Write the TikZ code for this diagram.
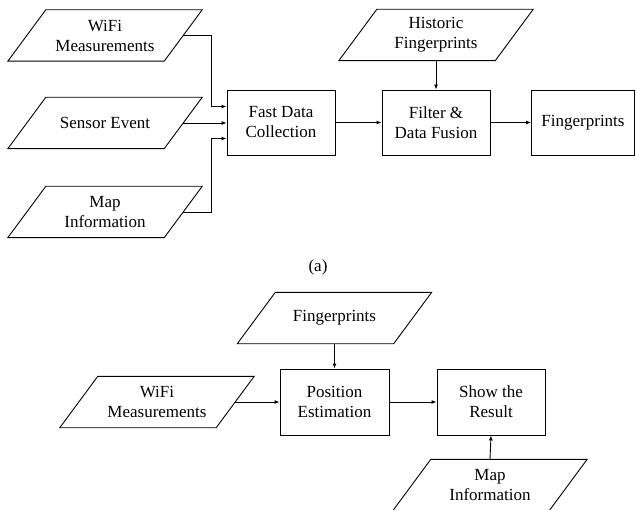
\documentclass[tikz,border=0pt]{standalone}
\usepackage{fontspec}
\setmainfont{Liberation Serif}
\usetikzlibrary{arrows.meta}
\begin{document}
\begin{tikzpicture}[x=1pt,y=-1pt,
  every node/.style={font=\fontsize{17}{20}\selectfont, align=center, inner sep=0pt},
  para/.style={rectangle, minimum width=156pt, minimum height=51pt},
  proc/.style={draw, line width=0.9pt, rectangle, minimum width=108pt, minimum height=65pt},
  conn/.style={line width=0.9pt, -{Latex[length=5pt,width=4pt]}}]
\useasboundingbox (0,0) rectangle (636,510);
% (a)
\node[para] (wifi1) at (105,35.5) {WiFi\\Measurements};
\node[para] (sens) at (105,123) {Sensor Event};
\node[para] (map1) at (105,212) {Map\\Information};
\node[para] (hist) at (436,35) {Historic\\Fingerprints};
\node[proc] (fast) at (281,122.5) {Fast Data\\Collection};
\node[proc] (filt) at (436,122.5) {Filter \&\\Data Fusion};
\node[proc, minimum width=103pt] (fp1) at (583,122.5) {Fingerprints};
\node (cap) at (318,267) {(a)};
\coordinate (j1) at (211,35.5);
\coordinate (j2) at (211,212);
% (b)
\node[para] (fp2) at (334.5,318) {Fingerprints};
\node[para] (wifi2) at (157,402) {WiFi\\Measurements};
\node[proc, minimum width=109pt, minimum height=66pt] (pos) at (334.5,402) {Position\\Estimation};
\node[proc, minimum height=66pt] (show) at (491,402) {Show the\\Result};
\node[para] (map2) at (490,485) {Map\\Information};
% parallelogram outlines
\foreach \n in {wifi1,sens,map1,hist,fp2,wifi2,map2}{
  \draw[line width=0.9pt] ([xshift=-19pt]\n.south west) -- ([xshift=19pt]\n.north west)
    -- ([xshift=19pt]\n.north east) -- ([xshift=-19pt]\n.south east) -- cycle;
}
% connectors (a)
\draw[conn] (wifi1.east) -- (j1) |- ([yshift=16pt]fast.west);
\draw[conn] (sens.east) -- (sens.east -| fast.west);
\draw[conn] (map1.east) -- (j2) |- ([yshift=-16pt]fast.west);
\draw[conn] (fast) -- (filt);
\draw[conn] (filt) -- (fp1);
\draw[conn] (hist.south) -- (filt.north);
% connectors (b)
\draw[conn] (fp2.south) -- (pos.north);
\draw[conn] (wifi2.east) -- (pos.west);
\draw[conn] (pos) -- (show);
\draw[conn] (map2.north) -- (show.south);
\end{tikzpicture}
\end{document}
